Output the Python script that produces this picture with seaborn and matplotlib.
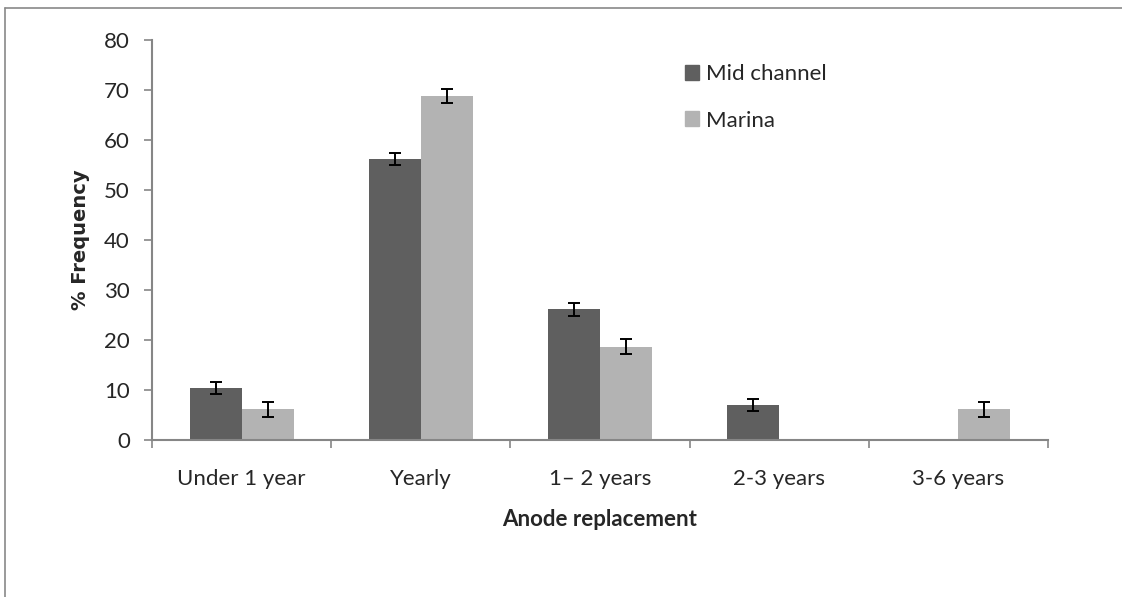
import numpy as np
import pandas as pd
import seaborn as sns
import matplotlib.pyplot as plt
from matplotlib.lines import Line2D

# values
categories = ["Under 1 year", "Yearly", "1\u2013 2 years", "2-3 years", "3-6 years"]
mid_channel = [10.5, 56.2, 26.2, 7.0, 0.0]
marina = [6.2, 68.8, 18.7, 0.0, 6.2]
mid_err = [1.2, 1.2, 1.3, 1.2, np.nan]
marina_err = [1.5, 1.4, 1.5, np.nan, 1.5]
series = ["Mid channel", "Marina"]

df = pd.DataFrame({
    "cat": categories * 2,
    "series": [series[0]] * 5 + [series[1]] * 5,
    "value": mid_channel + marina,
})

sns.set_style("white")
plt.rcParams["font.family"] = ["Lato", "DejaVu Sans"]
plt.rcParams["font.size"] = 16

W, H = 1122, 597
fig = plt.figure(figsize=(W / 100, H / 100), dpi=100)
ax = fig.add_axes([152 / W, 1 - 440 / H, (1048 - 152) / W, 400 / H])

sns.barplot(data=df, x="cat", y="value", hue="series", order=categories,
            hue_order=series, palette=["#5f5f5f", "#b3b3b3"], width=0.58,
            errorbar=None, saturation=1, linewidth=0, ax=ax)

# error bars on top of each bar
for cont, errs in zip(ax.containers, [mid_err, marina_err]):
    for bar, e in zip(cont, errs):
        if np.isnan(e):
            continue
        xc = bar.get_x() + bar.get_width() / 2
        ax.errorbar(xc, bar.get_height(), yerr=e, fmt="none", ecolor="black",
                    elinewidth=1.4, capsize=4.5, capthick=1.4, zorder=5)

ax.set_ylim(0, 80)
ax.set_xlim(-0.5, 4.5)
ax.set_yticks(range(0, 81, 10))

# tick marks between groups (major), category names centred (minor)
ax.set_xticks(np.arange(-0.5, 5, 1), [""] * 6)
ax.set_xticks(range(5), categories, minor=True)
ax.tick_params(axis="x", which="major", length=6, color="#868686", width=1.2,
               direction="out", bottom=True)
ax.tick_params(axis="x", which="minor", length=0, pad=21, labelsize=16, bottom=True)
ax.tick_params(axis="y", length=6, color="#868686", width=1.2, direction="out",
               pad=10, labelsize=16, left=True)

for s in ["top", "right"]:
    ax.spines[s].set_visible(False)
for s in ["left", "bottom"]:
    ax.spines[s].set_color("#868686")
    ax.spines[s].set_linewidth(1.5)

ax.set_xlabel("Anode replacement", fontweight="bold", fontsize=16, labelpad=14)
ax.set_ylabel("% Frequency", fontweight="bold", fontsize=14, family=["DejaVu Sans"], labelpad=10)

handles = [plt.Rectangle((0, 0), 1, 1, color=c) for c in ["#5f5f5f", "#b3b3b3"]]
ax.legend(handles, series, loc="upper left", bbox_to_anchor=(676 / W, 1 - 55 / H),
          bbox_transform=fig.transFigure, frameon=False, fontsize=16,
          handlelength=0.65, handleheight=0.65, handletextpad=0.3, labelspacing=1.2,
          borderaxespad=0)

# outer chart-area border (only left and top visible in the crop)
fig.add_artist(Line2D([5 / W, 5 / W], [0, 1 - 8 / H], color="#898989", lw=1.2))
fig.add_artist(Line2D([5 / W, 1], [1 - 8 / H, 1 - 8 / H], color="#898989", lw=1.2))

fig.savefig("out.png", dpi=100)
